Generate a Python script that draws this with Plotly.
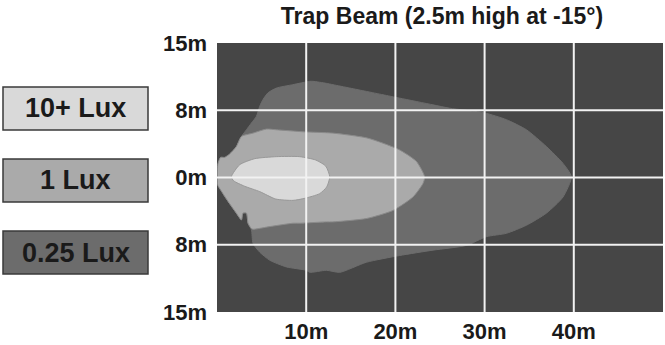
import plotly.graph_objects as go

# ---------------- data ----------------
title_text = "Trap Beam (2.5m high at -15°)"

x_tickvals = [10, 20, 30, 40]
x_ticktext = ["10m", "20m", "30m", "40m"]
y_tickvals = [-2, -1, 0, 1, 2]
y_ticktext = ["15m", "8m", "0m", "8m", "15m"]

legend_labels = ["10+ Lux", "1 Lux", "0.25 Lux"]
legend_colors = ["#d9d9d9", "#aaaaaa", "#6c6c6c"]

# 0.25 lux outline (x in metres, y in axis grid units)
lux025_x = [0.11, 0.30, 0.86, 1.42, 2.17, 2.74, 3.30, 3.86, 4.42, 4.79, 5.16, 5.72, 6.66, 8.49,
            10.39, 10.76, 12.26, 13.00, 14.88, 16.75, 18.61, 20.48, 24.22, 26.09, 30.01, 32.44,
            34.69, 36.93, 38.79, 39.73, 38.79, 36.93, 34.69, 32.44, 30.20, 27.96, 24.22, 20.48,
            16.75, 13.76, 12.26, 10.39, 10.02, 7.78, 5.91, 4.79, 4.04, 3.86, 3.48, 3.30, 2.91,
            2.74, 2.17, 1.42, 0.67, 0.30]
lux025_y = [-0.04, 0.11, 0.21, 0.31, 0.46, 0.61, 0.71, 0.81, 0.91, 1.06, 1.16, 1.26, 1.33, 1.38,
            1.43, 1.43, 1.40, 1.38, 1.33, 1.28, 1.23, 1.18, 1.08, 1.03, 0.96, 0.86,
            0.71, 0.46, 0.21, 0.01, -0.29, -0.53, -0.71, -0.83, -0.88, -1.01, -1.08, -1.16,
            -1.26, -1.41, -1.38, -1.41, -1.38, -1.33, -1.23, -1.11, -0.98, -0.78, -0.68, -0.53, -0.53,
            -0.63, -0.53, -0.39, -0.24, -0.04]

# 1 lux outline
lux1_x = [0.05, 0.10, 0.40, 0.86, 1.42, 2.17, 2.74, 4.04, 5.54, 6.66, 9.64, 13.00, 16.75, 18.61,
          20.48, 22.35, 23.28, 23.09, 21.97, 19.73, 16.75, 13.00, 12.26, 9.27, 8.52, 5.91,
          4.04, 3.86, 3.48, 3.30, 2.91, 2.74, 2.17, 1.42, 0.67, 0.10]
lux1_y = [-0.08, 0.20, 0.30, 0.30, 0.35, 0.46, 0.61, 0.66, 0.72, 0.71, 0.68, 0.66, 0.59, 0.51,
          0.41, 0.24, 0.01, -0.09, -0.29, -0.49, -0.61, -0.66, -0.66, -0.68, -0.68, -0.73,
          -0.77, -0.76, -0.68, -0.53, -0.53, -0.63, -0.53, -0.39, -0.24, -0.12]

# 10+ lux outline
lux10_x = [1.61, 2.54, 4.23, 6.66, 9.27, 11.07, 12.19, 12.64, 12.30, 11.51, 9.83, 8.52, 6.58,
           4.79, 3.10, 1.87]
lux10_y = [0.01, 0.19, 0.28, 0.31, 0.31, 0.26, 0.17, 0.01, -0.14, -0.24, -0.31, -0.34, -0.32,
           -0.21, -0.13, -0.05]

# ---------------- figure ----------------
FONT = "Liberation Sans, Arial, sans-serif"
W, H = 665, 345
ML, MR, MT, MB = 217, 2, 43, 33
PW, PH = W - ML - MR, H - MT - MB

fig = go.Figure()
for xs, ys, col, edge in [(lux025_x, lux025_y, legend_colors[2], legend_colors[2]),
                          (lux1_x, lux1_y, legend_colors[1], "#8a8a8a"),
                          (lux10_x, lux10_y, legend_colors[0], "#999999")]:
    fig.add_trace(go.Scatter(x=xs + [xs[0]], y=ys + [ys[0]], mode="lines", fill="toself",
                             fillcolor=col, line=dict(color=edge, width=1, shape="spline", smoothing=0.6),
                             hoverinfo="skip", showlegend=False))

# grid lines drawn above the filled areas
for xv in x_tickvals:
    fig.add_shape(type="line", xref="x", yref="paper", x0=xv, x1=xv, y0=0, y1=1,
                  line=dict(color="#f2f2f2", width=2), layer="above")
for yv in y_tickvals[1:-1]:
    fig.add_shape(type="line", xref="paper", yref="y", x0=0, x1=1, y0=yv, y1=yv,
                  line=dict(color="#f2f2f2", width=2), layer="above")

# legend boxes on the left
box_tops = [87, 159, 231]
box_h = 43
for lab, col, top in zip(legend_labels, legend_colors, box_tops):
    y1 = (H - MB - top) / PH
    y0 = (H - MB - top - box_h) / PH
    x0 = (3 - ML) / PW
    x1 = (148 - ML) / PW
    fig.add_shape(type="rect", xref="paper", yref="paper", x0=x0, x1=x1, y0=y0, y1=y1,
                  fillcolor=col, line=dict(color="#3a3a3a", width=1.5))
    fig.add_annotation(xref="paper", yref="paper", x=(x0 + x1) / 2, y=(y0 + y1) / 2,
                       text=lab, showarrow=False, xanchor="center", yanchor="middle",
                       font=dict(family=FONT, size=27, color="#1a1a1a", weight="bold"))

fig.update_layout(
    width=W, height=H,
    margin=dict(l=ML, r=MR, t=MT, b=MB, pad=0),
    paper_bgcolor="white", plot_bgcolor="#464646",
    title=dict(text=title_text, x=442 / W, xanchor="center", y=1 - 16 / H, yanchor="middle",
               font=dict(family=FONT, size=23, color="#1a1a1a", weight="bold")),
    xaxis=dict(range=[0, 50], tickvals=x_tickvals, ticktext=x_ticktext, showgrid=False,
               zeroline=False, showline=False, ticks="", ticklabelstandoff=4,
               tickfont=dict(family=FONT, size=22, color="#1a1a1a", weight="bold"), fixedrange=True),
    yaxis=dict(range=[-2, 2], tickvals=y_tickvals, ticktext=y_ticktext, showgrid=False,
               zeroline=False, showline=False, ticks="", ticklabelstandoff=9,
               tickfont=dict(family=FONT, size=22, color="#1a1a1a", weight="bold"), fixedrange=True),
)

fig.write_html("out.html", config={"displayModeBar": False},
               post_script="document.body.style.margin='0';document.body.style.overflow='hidden';")
